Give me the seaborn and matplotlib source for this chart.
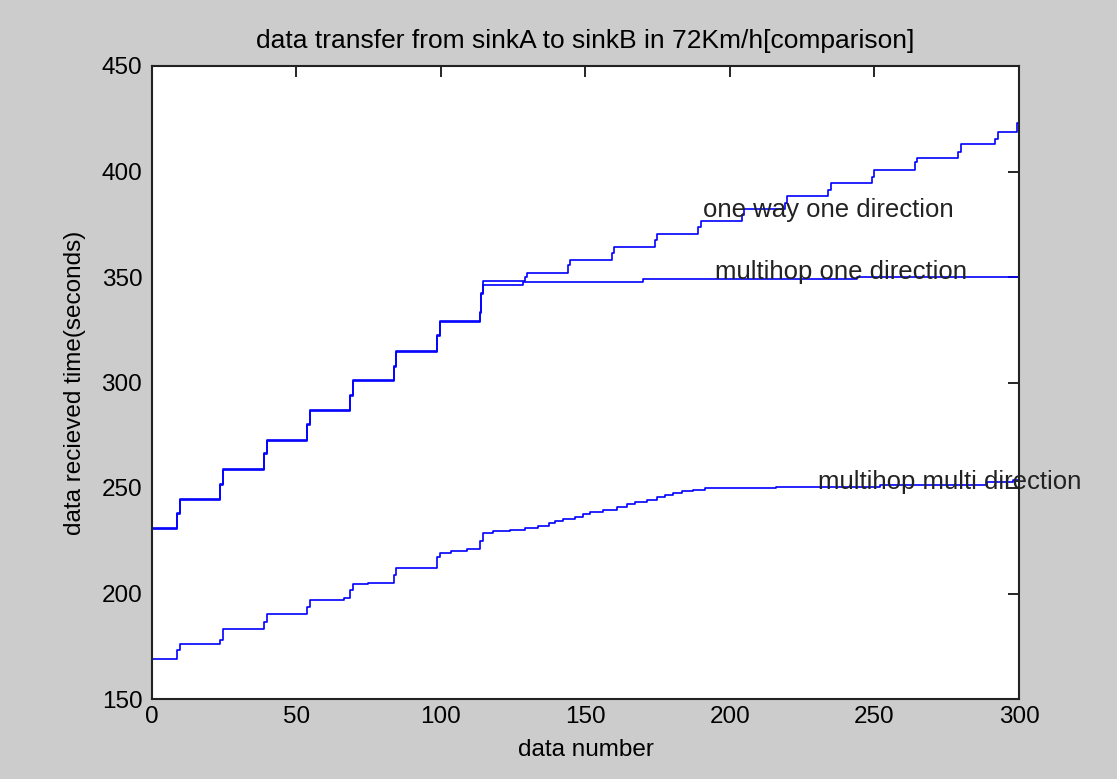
import matplotlib
matplotlib.use("Agg")
import matplotlib.pyplot as plt
import seaborn as sns
import pandas as pd

# ---- data (step breakpoints) ----
oneway_x = [0, 8.8, 9.7, 23.5, 24.5, 38.9, 39.8, 53.7, 54.6, 68.5, 69.5, 83.7, 84.6,
            98.7, 99.6, 113.5, 114.0, 114.6, 129.0, 129.9, 144.0, 144.8, 159.0, 159.8,
            174.0, 174.8, 189.0, 189.8, 204.0, 204.8, 219.0, 219.8, 234.0, 234.8,
            249.0, 249.8, 264.0, 264.8, 279.0, 279.8, 291.7, 292.6, 299.4, 300]
oneway_y = [231.0, 238.0, 245.0, 252.0, 259.0, 266.4, 272.9, 280.3, 287.0, 294.0, 301.0,
            308.0, 315.1, 322.5, 329.3, 333.6, 342.3, 347.9, 350.1, 352.0, 355.7, 358.2,
            361.3, 364.4, 367.5, 370.6, 373.6, 376.7, 379.4, 382.2, 385.3, 388.4, 391.4,
            394.4, 397.5, 400.7, 404.6, 406.6, 409.4, 413.2, 415.2, 418.9, 423.1, 423.1]

multi1_x = [0, 8.8, 9.7, 23.5, 24.5, 38.9, 39.8, 53.7, 54.6, 68.5, 69.5, 83.7, 84.6,
            98.7, 99.6, 113.5, 114.0, 114.6, 128.5, 169.8, 243.8, 300]
multi1_y = [230.5, 237.5, 244.5, 251.5, 258.5, 265.9, 272.4, 279.8, 286.5, 293.5, 300.5,
            307.5, 314.6, 322.0, 328.8, 333.1, 341.8, 346.2, 347.8, 348.9, 349.8, 349.8]

multim_x = [0, 8.8, 9.7, 23.5, 24.5, 38.9, 39.8, 53.7, 54.6, 66.5, 68.5, 69.5, 74.9,
            83.7, 84.6, 98.7, 99.6, 103.3, 108.9, 113.5, 114.5, 118.0, 124.0, 129.0,
            133.7, 137.2, 139.4, 142.3, 146.4, 149.3, 151.6, 156.2, 160.8, 164.3, 167.1,
            171.2, 174.6, 177.5, 180.4, 183.3, 187.3, 191.3, 216.0, 252.0, 289.0, 298.0, 300]
multim_y = [169.1, 173.2, 176.1, 178.0, 183.0, 186.6, 190.1, 193.7, 196.9, 198.0, 201.6,
            204.4, 205.0, 208.8, 212.1, 217.2, 219.3, 220.1, 220.9, 225.0, 228.8, 229.6,
            230.3, 231.2, 232.1, 233.2, 234.2, 235.3, 236.4, 237.5, 238.4, 239.8, 241.1,
            242.2, 243.3, 244.4, 245.5, 246.7, 247.6, 248.4, 249.2, 249.8, 250.6, 251.4,
            253.0, 254.0, 254.0]

labels = ["one way one direction", "multihop one direction", "multihop multi direction"]
label_x = [190.5, 194.8, 230.6]
label_y = [381.8, 352.6, 253.0]

x_ticks = [0, 50, 100, 150, 200, 250, 300]
y_ticks = [150, 200, 250, 300, 350, 400, 450]

title = "data transfer from sinkA to sinkB in 72Km/h[comparison]"
xlabel = "data number"
ylabel = "data recieved time(seconds)"

# ---- style ----
sns.set_theme(style="white")
plt.rcParams["font.family"] = ["Liberation Sans", "DejaVu Sans"]

fig = plt.figure(figsize=(11.17, 7.79), dpi=100, facecolor="#cccccc")
ax = fig.add_axes([152 / 1117, 1 - 699 / 779, (1019 - 152) / 1117, (699 - 66) / 779])
ax.set_facecolor("white")

blue = "#0000ff"
for xs, ys in [(oneway_x, oneway_y), (multi1_x, multi1_y), (multim_x, multim_y)]:
    df = pd.DataFrame({"x": xs, "y": ys})
    sns.lineplot(data=df, x="x", y="y", ax=ax, color=blue, linewidth=1.2,
                 drawstyle="steps-post", estimator=None, sort=False)

for t, tx, ty in zip(labels, label_x, label_y):
    ax.text(tx, ty, t, fontsize=18.5, color="#222222", ha="left", va="center")

ax.set_xlim(0, 300)
ax.set_ylim(150, 450)
ax.set_xticks(x_ticks)
ax.set_yticks(y_ticks)
ax.tick_params(direction="in", length=8, width=1.2, colors="black",
               top=True, right=True, labelsize=17.5)
ax.tick_params(axis="y", pad=7)
ax.tick_params(axis="x", pad=5)
for s in ax.spines.values():
    s.set_visible(True)
    s.set_color("#222222")
    s.set_linewidth(1.5)

ax.set_title(title, fontsize=19, color="black", pad=13)
ax.set_xlabel(xlabel, fontsize=17.5, color="black", labelpad=8)
ax.set_ylabel(ylabel, fontsize=17.5, color="black", labelpad=11)

fig.savefig("out.png", dpi=100, facecolor=fig.get_facecolor())
